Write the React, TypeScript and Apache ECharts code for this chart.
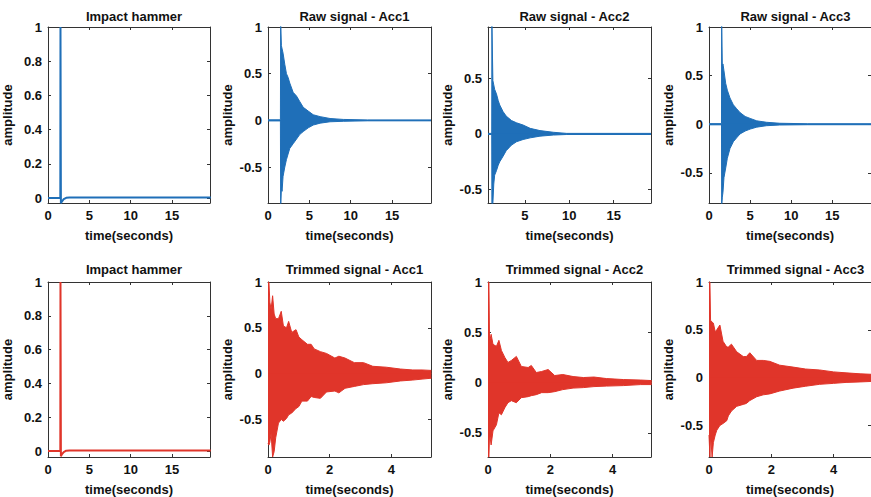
import React, { useEffect, useRef } from "react";
import * as echarts from "echarts";

const BLUE = "#1f6fb8";
const RED = "#e0352a";
const FONT = "'Liberation Sans', Arial, Helvetica, sans-serif";

// ---- Impact hammer (same record, raw & trimmed rows) ----
const hammerT = [0, 1.49, 1.51, 1.56, 1.7, 1.9, 2.2, 2.6, 19.7];
const hammerV = [0.001, 0.001, 1.0, -0.03, -0.018, -0.006, 0.002, 0.004, 0.004];

// ---- Raw signals: envelope (upper / lower) ----
const rawAcc1T = [0, 1.5, 1.53, 1.57, 1.62, 1.7, 1.82, 2.03, 2.23, 2.43, 2.63, 3.04, 3.45, 3.85, 4.26, 4.86, 5.47, 6.3, 7.5, 9.1, 12, 19.7];
const rawAcc1Up = [0.006, 0.006, 1.05, 1.05, 0.8, 0.8, 0.72, 0.6, 0.5, 0.46, 0.4, 0.3, 0.26, 0.2, 0.14, 0.1, 0.06, 0.04, 0.02, 0.01, 0.005, 0.005];
const rawAcc1Lo = [-0.006, -0.006, -0.95, -0.95, -0.72, -0.76, -0.6, -0.5, -0.42, -0.36, -0.3, -0.25, -0.2, -0.15, -0.12, -0.08, -0.05, -0.03, -0.015, -0.01, -0.005, -0.005];

const rawAcc2T = [0.85, 1.27, 1.29, 1.34, 1.4, 1.5, 1.6, 1.8, 2.0, 2.17, 2.55, 2.9, 3.5, 4.06, 4.8, 5.6, 6.7, 8.2, 9.7, 19.2];
const rawAcc2Up = [0.005, 0.005, 1.0, 1.0, 0.48, 0.44, 0.4, 0.36, 0.3, 0.26, 0.2, 0.16, 0.12, 0.1, 0.08, 0.05, 0.03, 0.015, 0.005, 0.005];
const rawAcc2Lo = [-0.005, -0.005, -0.7, -0.7, -0.62, -0.45, -0.37, -0.33, -0.28, -0.25, -0.2, -0.15, -0.1, -0.07, -0.05, -0.035, -0.02, -0.01, -0.005, -0.005];

const rawAcc3T = [0, 1.52, 1.54, 1.58, 1.62, 1.7, 1.82, 2.03, 2.23, 2.55, 2.96, 3.36, 3.77, 4.4, 5.0, 5.8, 7.0, 8.6, 12, 19.7];
const rawAcc3Up = [0.006, 0.006, 1.05, 1.05, 0.6, 0.62, 0.55, 0.42, 0.35, 0.27, 0.2, 0.16, 0.12, 0.08, 0.06, 0.035, 0.02, 0.01, 0.005, 0.005];
const rawAcc3Lo = [-0.006, -0.006, -0.85, -0.85, -0.75, -0.7, -0.55, -0.45, -0.35, -0.25, -0.18, -0.14, -0.1, -0.07, -0.05, -0.03, -0.015, -0.008, -0.005, -0.005];

// ---- Trimmed signals ----
const trimAcc1T = [0, 0.03, 0.06, 0.1, 0.15, 0.2, 0.25, 0.34, 0.43, 0.5, 0.6, 0.67, 0.77, 0.91, 1.0, 1.1, 1.28, 1.4, 1.5, 1.7, 1.9, 2.17, 2.3, 2.5, 2.8, 3.1, 3.4, 3.84, 4.3, 4.7, 5.0, 5.3];
const trimAcc1Up = [1.0, 1.0, 0.78, 0.7, 0.85, 0.65, 0.6, 0.6, 0.68, 0.52, 0.5, 0.57, 0.45, 0.48, 0.4, 0.37, 0.32, 0.32, 0.27, 0.24, 0.22, 0.17, 0.19, 0.17, 0.12, 0.12, 0.08, 0.07, 0.05, 0.04, 0.04, 0.035];
const trimAcc1Lo = [-0.76, -0.78, -0.75, -0.65, -0.91, -0.85, -0.7, -0.54, -0.5, -0.52, -0.49, -0.45, -0.43, -0.38, -0.36, -0.3, -0.3, -0.25, -0.26, -0.27, -0.2, -0.19, -0.21, -0.16, -0.14, -0.12, -0.11, -0.1, -0.08, -0.07, -0.06, -0.05];

const trimAcc2T = [0, 0.03, 0.05, 0.1, 0.16, 0.27, 0.35, 0.43, 0.54, 0.64, 0.75, 0.91, 1.07, 1.29, 1.39, 1.55, 1.72, 1.93, 2.14, 2.4, 2.73, 3.06, 3.4, 3.8, 4.35, 4.9, 5.25];
const trimAcc2Up = [1.0, 1.0, 0.4, 0.48, 0.38, 0.36, 0.42, 0.32, 0.25, 0.2, 0.22, 0.26, 0.16, 0.15, 0.17, 0.1, 0.11, 0.13, 0.07, 0.08, 0.06, 0.05, 0.055, 0.04, 0.03, 0.025, 0.02];
const trimAcc2Lo = [-0.74, -0.74, -0.5, -0.62, -0.48, -0.42, -0.3, -0.32, -0.25, -0.2, -0.18, -0.2, -0.15, -0.14, -0.13, -0.12, -0.1, -0.1, -0.09, -0.07, -0.055, -0.05, -0.04, -0.035, -0.03, -0.02, -0.02];

const trimAcc3T = [0, 0.03, 0.05, 0.1, 0.14, 0.2, 0.25, 0.35, 0.45, 0.57, 0.62, 0.72, 0.89, 1.1, 1.2, 1.31, 1.53, 1.74, 1.95, 2.27, 2.7, 3.1, 3.55, 4.0, 4.4, 4.85, 5.2];
const trimAcc3Up = [1.0, 1.0, 0.6, 0.58, 0.57, 0.48, 0.5, 0.55, 0.38, 0.32, 0.32, 0.35, 0.27, 0.22, 0.22, 0.26, 0.18, 0.18, 0.17, 0.13, 0.11, 0.09, 0.08, 0.06, 0.05, 0.04, 0.035];
const trimAcc3Lo = [-0.6, -0.83, -0.6, -0.83, -0.68, -0.6, -0.55, -0.5, -0.48, -0.45, -0.4, -0.35, -0.3, -0.28, -0.27, -0.24, -0.2, -0.18, -0.17, -0.14, -0.11, -0.09, -0.07, -0.06, -0.05, -0.045, -0.04];

// ---- Tick labels ----
const rawTimeTicks = [0, 5, 10, 15];
const rawAcc2TimeTicks = [5, 10, 15];
const trimTimeTicks = [0, 2, 4];
const hammerAmpTicks = [0, 0.2, 0.4, 0.6, 0.8, 1];
const accAmpTicks = [-0.5, 0, 0.5, 1];
const rawAcc2AmpTicks = [-0.5, 0, 0.5];

const titles = [
  "Impact hammer", "Raw signal - Acc1", "Raw signal - Acc2", "Raw signal - Acc3",
  "Impact hammer", "Trimmed signal - Acc1", "Trimmed signal - Acc2", "Trimmed signal - Acc3",
];

const COL_LEFT = [48, 268, 488, 709];
const COL_WIDTH = [162, 163, 163, 163];
const ROW_TOP = [27, 282];
const TITLE_OFFSET = [22, 24];
const PLOT_H = 176;

type Panel = {
  color: string;
  xMin: number; xMax: number; xTicks: number[];
  yMin: number; yMax: number; yTicks: number[];
  t: number[]; up: number[]; lo?: number[];
};

const panels: Panel[] = [
  { color: BLUE, xMin: 0, xMax: 19.6, xTicks: rawTimeTicks, yMin: -0.028, yMax: 1, yTicks: hammerAmpTicks, t: hammerT, up: hammerV },
  { color: BLUE, xMin: 0, xMax: 19.7, xTicks: rawTimeTicks, yMin: -0.885, yMax: 1, yTicks: accAmpTicks, t: rawAcc1T, up: rawAcc1Up, lo: rawAcc1Lo },
  { color: BLUE, xMin: 0.85, xMax: 19.2, xTicks: rawAcc2TimeTicks, yMin: -0.62, yMax: 0.96, yTicks: rawAcc2AmpTicks, t: rawAcc2T, up: rawAcc2Up, lo: rawAcc2Lo },
  { color: BLUE, xMin: 0, xMax: 19.7, xTicks: rawTimeTicks, yMin: -0.81, yMax: 1, yTicks: accAmpTicks, t: rawAcc3T, up: rawAcc3Up, lo: rawAcc3Lo },
  { color: RED, xMin: 0, xMax: 19.6, xTicks: rawTimeTicks, yMin: -0.035, yMax: 1, yTicks: hammerAmpTicks, t: hammerT, up: hammerV },
  { color: RED, xMin: 0, xMax: 5.29, xTicks: trimTimeTicks, yMin: -0.91, yMax: 1, yTicks: accAmpTicks, t: trimAcc1T, up: trimAcc1Up, lo: trimAcc1Lo },
  { color: RED, xMin: 0, xMax: 5.23, xTicks: trimTimeTicks, yMin: -0.74, yMax: 1, yTicks: accAmpTicks, t: trimAcc2T, up: trimAcc2Up, lo: trimAcc2Lo },
  { color: RED, xMin: 0, xMax: 5.2, xTicks: trimTimeTicks, yMin: -0.83, yMax: 1, yTicks: accAmpTicks, t: trimAcc3T, up: trimAcc3Up, lo: trimAcc3Lo },
];

const AXIS_COLOR = "#333";
const labelStyle = { color: "#111", fontFamily: FONT, fontWeight: "bold" as const, fontSize: 13 };

function buildOption() {
  const grid: any[] = [];
  const xAxis: any[] = [];
  const yAxis: any[] = [];
  const series: any[] = [];
  const title: any[] = [];
  panels.forEach((p, i) => {
    const col = i % 4;
    const row = Math.floor(i / 4);
    const left = COL_LEFT[col];
    const width = COL_WIDTH[col];
    const top = ROW_TOP[row];
    grid.push({ left, top, width, height: PLOT_H, containLabel: false });
    title.push({
      text: titles[i],
      left: left + width / 2,
      top: top - TITLE_OFFSET[row],
      textAlign: "center",
      textStyle: { ...labelStyle, fontSize: 13 },
    });
    const axLine = { show: true, onZero: false, lineStyle: { color: AXIS_COLOR, width: 1 } };
    const tick = (vals: number[]) => ({ show: true, inside: true, length: 3, customValues: vals, lineStyle: { color: AXIS_COLOR, width: 1 } });
    xAxis.push({
      type: "value", gridIndex: i, position: "bottom", min: p.xMin, max: p.xMax,
      axisLine: axLine, axisTick: tick(p.xTicks), splitLine: { show: false },
      axisLabel: { ...labelStyle, margin: 6, customValues: p.xTicks },
      name: "time(seconds)", nameLocation: "middle", nameGap: 26, nameTextStyle: labelStyle,
    });
    xAxis.push({
      type: "value", gridIndex: i, position: "top", min: p.xMin, max: p.xMax,
      axisLine: axLine, axisTick: tick(p.xTicks), splitLine: { show: false },
      axisLabel: { show: false },
    });
    yAxis.push({
      type: "value", gridIndex: i, position: "left", min: p.yMin, max: p.yMax,
      axisLine: axLine, axisTick: tick(p.yTicks), splitLine: { show: false },
      axisLabel: { ...labelStyle, margin: 6, customValues: p.yTicks },
      name: "amplitude", nameLocation: "middle", nameGap: 34, nameTextStyle: labelStyle,
    });
    yAxis.push({
      type: "value", gridIndex: i, position: "right", min: p.yMin, max: p.yMax,
      axisLine: axLine, axisTick: tick(p.yTicks), splitLine: { show: false },
      axisLabel: { show: false },
    });
    const xi = i * 2;
    if (!p.lo) {
      series.push({
        type: "line", xAxisIndex: xi, yAxisIndex: xi, showSymbol: false, silent: true,
        data: p.t.map((t, k) => [t, p.up[k]]),
        lineStyle: { color: p.color, width: 2 }, itemStyle: { color: p.color },
      });
    } else {
      const envs: [number[], number][] = [[p.up, -0.004], [p.lo, 0.004]];
      envs.forEach(([env, origin]) => {
        series.push({
          type: "line", xAxisIndex: xi, yAxisIndex: xi, showSymbol: false, silent: true,
          data: p.t.map((t, k) => [t, env[k]]),
          lineStyle: { color: p.color, width: 1 }, itemStyle: { color: p.color },
          areaStyle: { color: p.color, opacity: 1, origin },
        });
      });
    }
  });
  return { animation: false, backgroundColor: "#fff", grid, xAxis, yAxis, series, title };
}

export default function App() {
  const ref = useRef<HTMLDivElement>(null);
  useEffect(() => {
    if (!ref.current) return;
    const chart = echarts.init(ref.current, undefined, { renderer: "svg" });
    chart.setOption(buildOption());
    return () => chart.dispose();
  }, []);
  return (
    <div
      ref={ref}
      style={{ position: "fixed", left: 0, top: 0, width: 871, height: 497, background: "#fff" }}
    />
  );
}
